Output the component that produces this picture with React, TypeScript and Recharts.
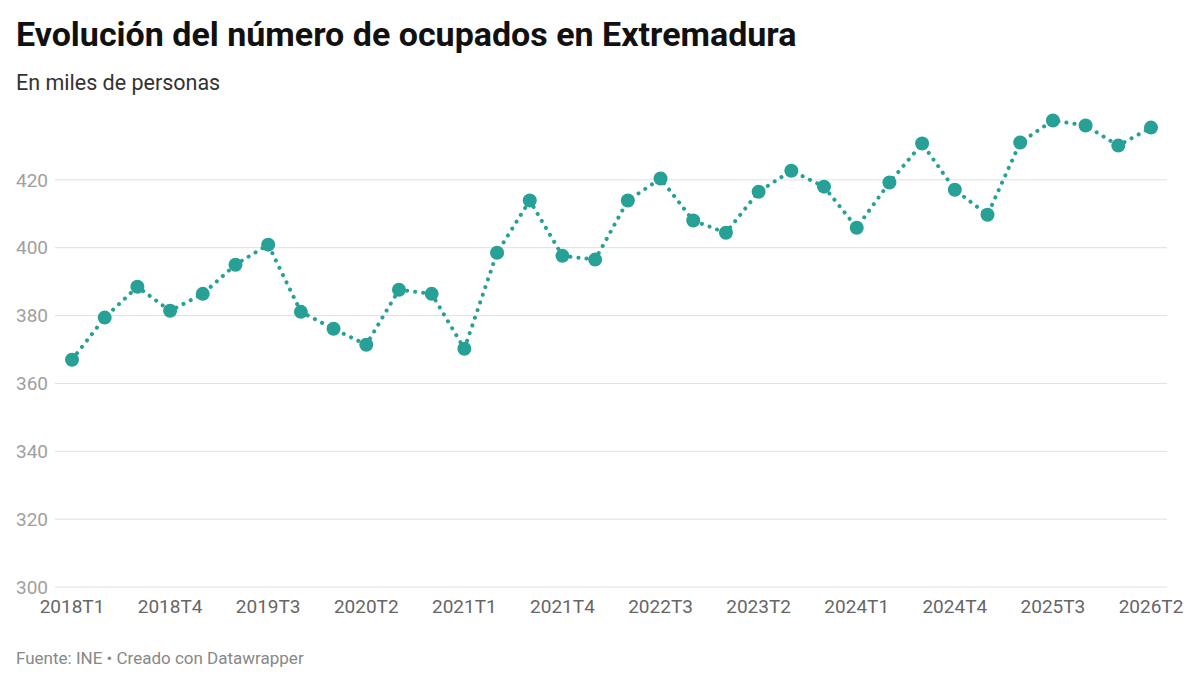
import { LineChart, Line, XAxis, YAxis, CartesianGrid } from 'recharts'

const quarters = [
  '2018T1', '2018T2', '2018T3', '2018T4',
  '2019T1', '2019T2', '2019T3', '2019T4',
  '2020T1', '2020T2', '2020T3', '2020T4',
  '2021T1', '2021T2', '2021T3', '2021T4',
  '2022T1', '2022T2', '2022T3', '2022T4',
  '2023T1', '2023T2', '2023T3', '2023T4',
  '2024T1', '2024T2', '2024T3', '2024T4',
  '2025T1', '2025T2', '2025T3', '2025T4',
  '2026T1', '2026T2',
]

const ocupados = [
  367.0, 379.4, 388.5, 381.4,
  386.4, 395.0, 400.9, 381.1,
  376.1, 371.4, 387.6, 386.4,
  370.2, 398.5, 413.9, 397.6,
  396.5, 413.9, 420.4, 408.0,
  404.4, 416.5, 422.7, 418.0,
  405.9, 419.2, 430.7, 417.1,
  409.7, 431.0, 437.5, 436.0,
  430.1, 435.4,
]

const yTicks = [300, 320, 340, 360, 380, 400, 420]

const TEAL = '#27a096'

export default function App() {
  const data = quarters.map((q, i) => ({ q, value: ocupados[i] }))

  return (
    <div
      style={{
        position: 'absolute',
        left: 0,
        top: 0,
        width: 1200,
        height: 675,
        background: '#fff',
        fontFamily: 'Roboto, sans-serif',
      }}
    >
      <div style={{ position: 'absolute', left: 16, top: 14, fontSize: 34, fontWeight: 700, color: '#111', whiteSpace: 'nowrap' }}>
        Evolución del número de ocupados en Extremadura
      </div>
      <div style={{ position: 'absolute', left: 16, top: 70, fontSize: 21.5, color: '#333', whiteSpace: 'nowrap' }}>
        En miles de personas
      </div>

      <div style={{ position: 'absolute', left: 0, top: 0 }}>
        <LineChart
          width={1200}
          height={675}
          data={data}
          margin={{ top: 112, right: 33, bottom: 58, left: 0 }}
        >
          <CartesianGrid vertical={false} horizontalValues={yTicks} stroke="#e0e0e0" strokeWidth={1} />
          <XAxis
            dataKey="q"
            interval={2}
            axisLine={false}
            tickLine={false}
            tickSize={0}
            tickMargin={13}
            height={30}
            padding={{ left: 17, right: 16 }}
            tick={{ fill: '#666', fontSize: 19, fontFamily: 'Roboto' }}
          />
          <YAxis
            domain={[300, 440]}
            ticks={yTicks}
            width={55}
            axisLine={false}
            tickLine={false}
            tickSize={0}
            tickMargin={7}
            tick={{ fill: '#a0a0a0', fontSize: 19, fontFamily: 'Roboto' }}
          />
          <Line
            type="linear"
            dataKey="value"
            stroke={TEAL}
            strokeWidth={4}
            strokeDasharray="0.1 8"
            strokeLinecap="round"
            dot={{ r: 7, fill: TEAL, stroke: 'none' }}
            activeDot={false}
            isAnimationActive={false}
          />
        </LineChart>
      </div>

      <div style={{ position: 'absolute', left: 16, top: 648, fontSize: 17, color: '#888', whiteSpace: 'nowrap' }}>
        Fuente: INE • Creado con Datawrapper
      </div>
    </div>
  )
}
